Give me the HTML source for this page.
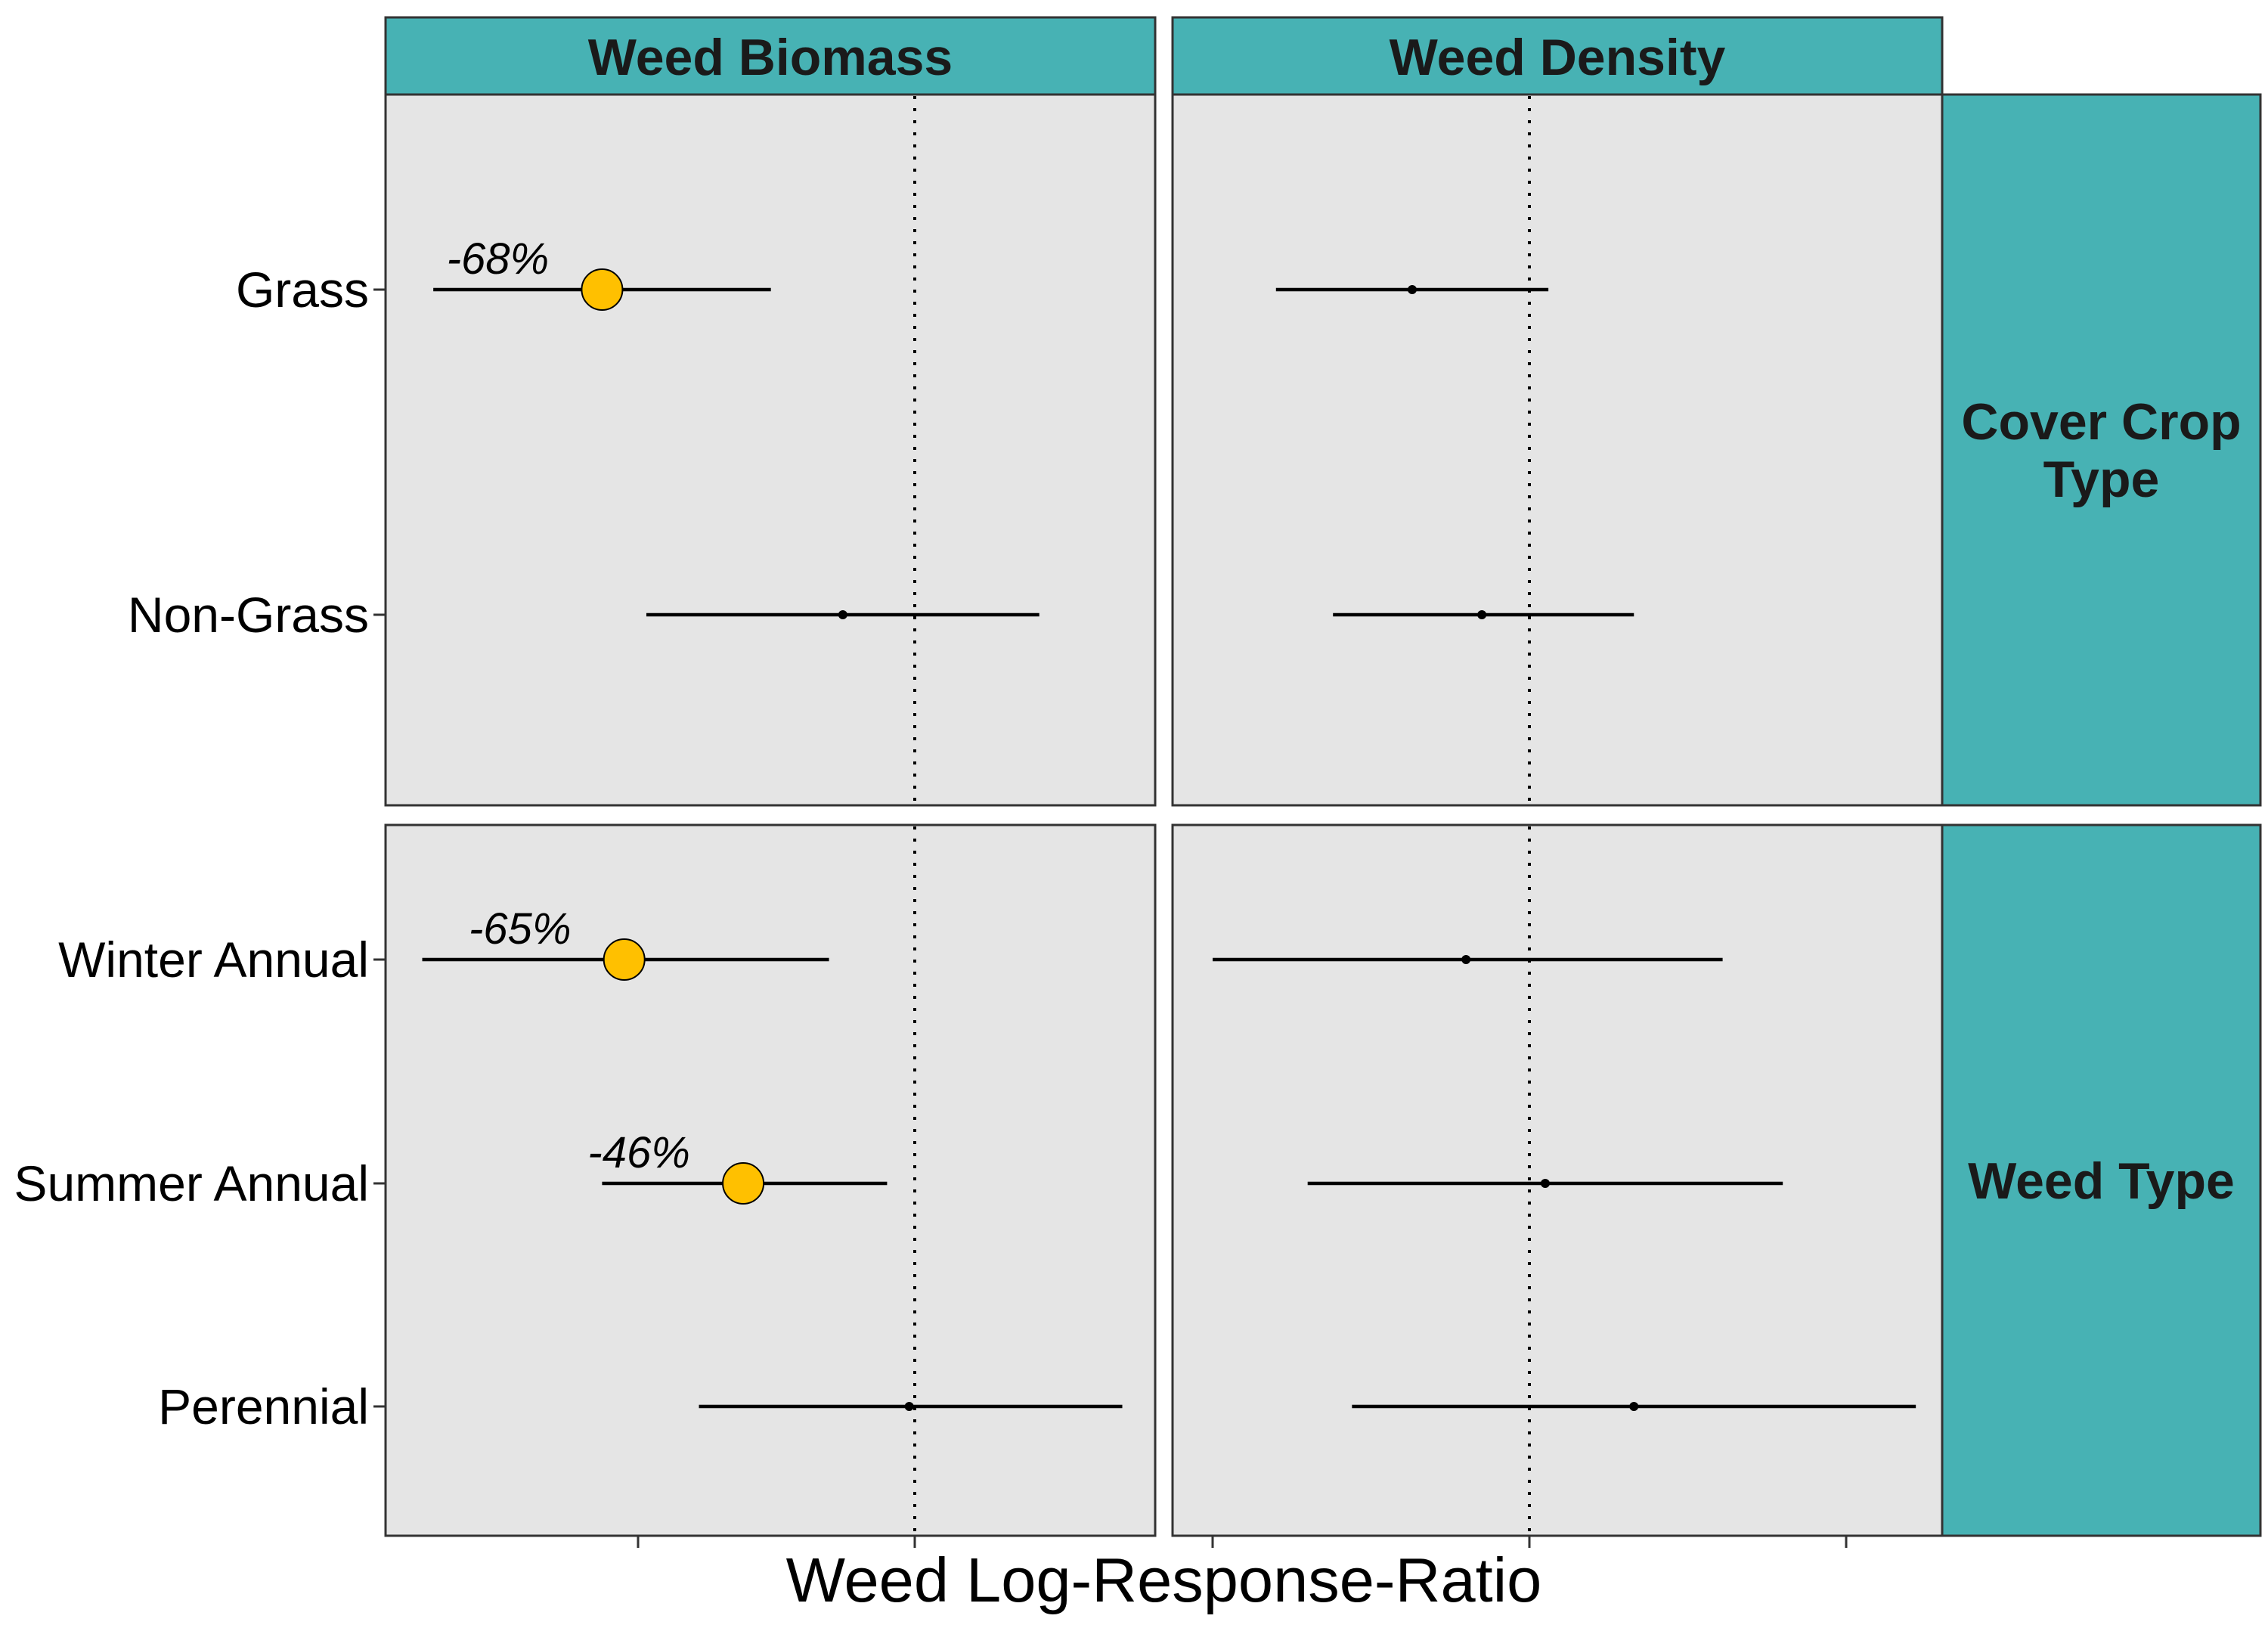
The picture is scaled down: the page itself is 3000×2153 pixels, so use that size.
<!DOCTYPE html>
<html><head><meta charset="utf-8"><style>
html,body{margin:0;padding:0;background:#fff;}
svg{display:block;font-family:"Liberation Sans",sans-serif;}
</style></head><body>
<svg id="c" width="3000" height="2153" viewBox="0 0 3000 2153" xmlns="http://www.w3.org/2000/svg"></svg>
<script>
const categoriesTop = ["Grass","Non-Grass"];
const categoriesBottom = ["Winter Annual","Summer Annual","Perennial"];
const biomassLo = [-1.74,-0.97,-1.78,-1.13,-0.78];
const biomassPt = [-1.13,-0.26,-1.05,-0.62,-0.02];
const biomassHi = [-0.52,0.45,-0.31,-0.10,0.75];
const biomassSig = [true,false,true,true,false];
const biomassLabels = ["-68%","","-65%","-46%",""];
const densityLo = [-0.80,-0.62,-1.00,-0.70,-0.56];
const densityPt = [-0.37,-0.15,-0.20,0.05,0.33];
const densityHi = [0.06,0.33,0.61,0.80,1.22];
const biomassTicks = [-1,0,1];
const densityTicks = [-1,0,1];

const svg = document.getElementById('c');
const NS = 'http://www.w3.org/2000/svg';
function mk(tag, attrs, parent){ const e=document.createElementNS(NS,tag); for(const k in attrs) e.setAttribute(k,attrs[k]); (parent||svg).appendChild(e); return e; }

const P1 = {x0:510,x1:1528};
const P2 = {x0:1551,x1:2569};
const R1 = {y0:125,y1:1065};
const R2 = {y0:1091,y1:2031};
const stripTop = 23;
const xB = v => 1210 + v*366;
const xD = v => 2023 + v*419;
const rowY = [383,813,1269,1565,1860];

[[P1,"Weed Biomass","strip-weed-biomass"],[P2,"Weed Density","strip-weed-density"]].forEach(([p,t,n])=>{
  const r = mk('rect',{x:p.x0,y:stripTop,width:p.x1-p.x0,height:R1.y0-stripTop,fill:'#47b2b4',stroke:'#333',"stroke-width":3});
  
  
  const tx = mk('text',{x:(p.x0+p.x1)/2,y:99,"text-anchor":"middle","font-size":68,"font-weight":"bold",fill:'#1a1a1a'});
  tx.textContent=t;
  
  
});
[[R1,["Cover Crop","Type"],"strip-cover-crop-type"],[R2,["Weed Type"],"strip-weed-type"]].forEach(([r,lines,n])=>{
  const re = mk('rect',{x:P2.x1,y:r.y0,width:2990-P2.x1,height:r.y1-r.y0,fill:'#47b2b4',stroke:'#333',"stroke-width":3});
  
  
  const cy=(r.y0+r.y1)/2, lh=76;
  lines.forEach((l,i)=>{
    const tx = mk('text',{x:(P2.x1+2990)/2,y:cy+(i-(lines.length-1)/2)*lh+24,"text-anchor":"middle","font-size":68,"font-weight":"bold",fill:'#1a1a1a'});
    tx.textContent=l;
    
    
  });
});
const panels=[[P1,R1,'biomass-cover'],[P2,R1,'density-cover'],[P1,R2,'biomass-weed'],[P2,R2,'density-weed']];
panels.forEach(([p,r,n])=>{
  const re = mk('rect',{x:p.x0,y:r.y0,width:p.x1-p.x0,height:r.y1-r.y0,fill:'#e5e5e5',stroke:'#333',"stroke-width":3});
  
  
  const zx = p===P1? xB(0): xD(0);
  const zl = mk('line',{x1:zx,x2:zx,y1:r.y0+2,y2:r.y1-2,stroke:'#000',"stroke-width":4,"stroke-dasharray":"4 12"});
  
  
});
const allCats = categoriesTop.concat(categoriesBottom);
allCats.forEach((c,i)=>{
  const t = mk('text',{x:488,y:rowY[i]+23,"text-anchor":"end","font-size":66,fill:'#000'});
  t.textContent=c;
  
  
  const tk = mk('line',{x1:494,x2:510,y1:rowY[i],y2:rowY[i],stroke:'#333',"stroke-width":3});
  
  
});
biomassTicks.forEach(v=>{ const x=xB(v); if(x<P1.x0||x>P1.x1) return;
  const tk=mk('line',{x1:x,x2:x,y1:R2.y1,y2:R2.y1+16,stroke:'#333',"stroke-width":3});
  
  
});
densityTicks.forEach(v=>{ const x=xD(v); if(x<P2.x0||x>P2.x1) return;
  const tk=mk('line',{x1:x,x2:x,y1:R2.y1,y2:R2.y1+16,stroke:'#333',"stroke-width":3});
  
  
});
for(let i=0;i<5;i++){
  const y=rowY[i];
  const l=mk('line',{x1:xB(biomassLo[i]),x2:xB(biomassHi[i]),y1:y,y2:y,stroke:'#000',"stroke-width":4.5});
  
  
  if(biomassSig[i]){
    const c=mk('circle',{cx:xB(biomassPt[i]),cy:y,r:27,fill:'#ffc000',stroke:'#000',"stroke-width":2});
    
    
    const t=mk('text',{x:xB(biomassPt[i])-138,y:y-21,"text-anchor":"middle","font-size":58,"font-style":"italic",fill:'#000'});
    t.textContent=biomassLabels[i];
    
    
  } else {
    const c=mk('circle',{cx:xB(biomassPt[i]),cy:y,r:6,fill:'#000'});
    
    
  }
  const l2=mk('line',{x1:xD(densityLo[i]),x2:xD(densityHi[i]),y1:y,y2:y,stroke:'#000',"stroke-width":4.5});
  
  
  const c2=mk('circle',{cx:xD(densityPt[i]),cy:y,r:6,fill:'#000'});
  
  
}
const at = mk('text',{x:(P1.x0+P2.x1)/2,y:2118,"text-anchor":"middle","font-size":83,fill:'#000'});
at.textContent='Weed Log-Response-Ratio';


</script>
</body></html>
